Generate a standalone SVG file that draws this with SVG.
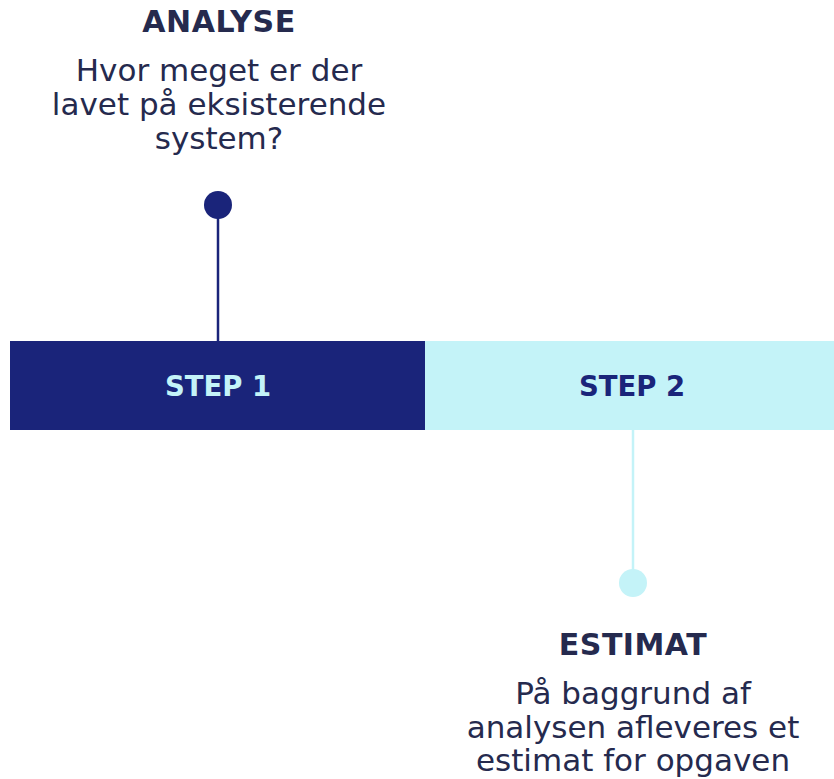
<svg xmlns="http://www.w3.org/2000/svg" width="834" height="779" viewBox="0 0 834 779">
<style>
.t{font-family:"DejaVu Sans","Noto Sans",sans-serif;fill:#252a4e;text-anchor:middle}
.h{font-size:30px;font-weight:bold;letter-spacing:0.5px}
.b{font-size:31px}
.s{font-size:27.5px;font-weight:bold;text-anchor:middle;font-family:"DejaVu Sans","Noto Sans",sans-serif}
</style>
<rect width="834" height="779" fill="#fff"/>
<g id="connectors">
<line x1="218" y1="205" x2="218" y2="341" stroke="#1a247a" stroke-width="2.5"/>
<line x1="633" y1="430" x2="633" y2="583" stroke="#c4f3f8" stroke-width="2.5"/>
</g>
<g id="step1">
<rect x="10" y="341" width="415" height="89" fill="#1a247a"/>
<text class="s" x="218" y="396" fill="#c4f3f8">STEP 1</text>
</g>
<g id="step2">
<rect x="425" y="341" width="409" height="89" fill="#c4f3f8"/>
<text class="s" x="632" y="396" fill="#1a247a">STEP 2</text>
</g>
<g id="analyse">
<circle cx="218" cy="205" r="14" fill="#1a247a"/>
<text class="t h" x="219" y="32">ANALYSE</text>
<text class="t b" x="219" y="81">Hvor meget er der</text>
<text class="t b" x="219" y="115">lavet på eksisterende</text>
<text class="t b" x="219" y="149">system?</text>
</g>
<g id="estimat">
<circle cx="633" cy="583" r="14" fill="#c4f3f8"/>
<text class="t h" x="633" y="655">ESTIMAT</text>
<text class="t b" x="633" y="704">På baggrund af</text>
<text class="t b" x="633" y="738">analysen afleveres et</text>
<text class="t b" x="633" y="771">estimat for opgaven</text>
</g>
</svg>
